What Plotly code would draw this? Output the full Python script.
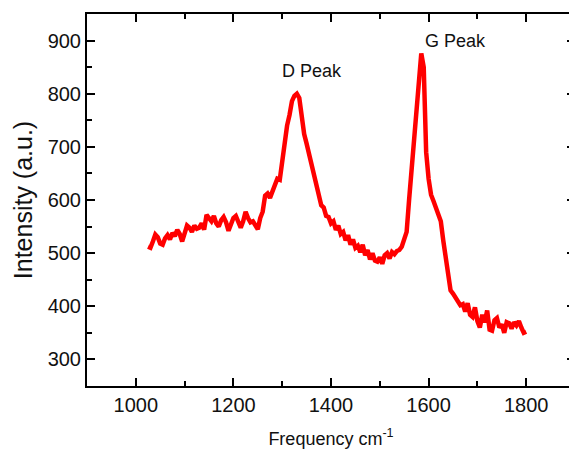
import plotly.graph_objects as go

freq = [1025, 1030, 1035, 1040, 1045, 1050, 1055, 1060, 1065, 1070, 1075, 1080, 1085, 1090, 1095,
        1100, 1105, 1110, 1115, 1120, 1125, 1130, 1135, 1140, 1145, 1150, 1155, 1160, 1165, 1170,
        1175, 1180, 1185, 1190, 1195, 1200, 1205, 1210, 1215, 1220, 1225, 1230, 1235, 1240, 1245,
        1250, 1255, 1260, 1265, 1270, 1275, 1280, 1285, 1290, 1295, 1300, 1305, 1310, 1315, 1320,
        1325, 1330, 1335, 1340, 1345, 1350, 1355, 1360, 1365, 1370, 1375, 1380, 1385, 1390, 1395,
        1400, 1405, 1410, 1415, 1420, 1425, 1430, 1435, 1440, 1445, 1450, 1455, 1460, 1465, 1470,
        1475, 1480, 1485, 1490, 1495, 1500, 1505, 1510, 1515, 1520, 1525, 1530, 1535, 1540, 1545,
        1550, 1555, 1560, 1565, 1570, 1575, 1580, 1585, 1590, 1595, 1600, 1605, 1610, 1615, 1620,
        1625, 1630, 1635, 1640, 1645, 1650, 1655, 1660, 1665, 1670, 1675, 1680, 1685, 1690, 1695,
        1700, 1705, 1710, 1715, 1720, 1725, 1730, 1735, 1740, 1745, 1750, 1755, 1760, 1765, 1770,
        1775, 1780, 1785, 1790, 1795, 1800]

intensity = [512, 510, 522, 535, 530, 518, 516, 528, 534, 526, 538, 532, 544, 536, 522,
             540, 552, 548, 540, 552, 546, 548, 556, 544, 572, 566, 560, 570, 556, 550,
             562, 568, 558, 542, 552, 566, 570, 556, 548, 560, 578, 566, 558, 560, 552,
             545, 566, 578, 608, 612, 604, 616, 632, 640, 638, 672, 716, 740, 760, 786,
             796, 800, 792, 750, 724, 706, 688, 664, 650, 626, 612, 590, 586, 570, 568,
             556, 560, 544, 552, 536, 540, 524, 534, 516, 526, 510, 514, 502, 516, 496,
             506, 488, 500, 486, 484, 492, 480, 496, 500, 490, 502, 498, 504, 506, 512,
             528, 540, 600, 654, 700, 760, 815, 876, 850, 690, 640, 610, 598, 586, 576,
             560, 524, 494, 456, 430, 424, 416, 412, 402, 404, 390, 406, 384, 380, 398,
             372, 360, 384, 370, 392, 356, 354, 374, 378, 360, 366, 350, 370, 368, 358,
             370, 364, 372, 360, 350, 352]

x_ticks = [1000, 1200, 1400, 1600, 1800]
y_ticks = [300, 400, 500, 600, 700, 800, 900]

peak_labels = ["D Peak", "G Peak"]
peak_pos = [(1362, 842), (1656, 900)]

font_family = "Arial, Liberation Sans, sans-serif"

fig = go.Figure()
fig.add_trace(go.Scatter(x=freq, y=intensity, mode="lines",
                         line=dict(color="#ff0000", width=4.5), showlegend=False))

for lab, (px, py) in zip(peak_labels, peak_pos):
    fig.add_annotation(x=px, y=py, text=lab, showarrow=False,
                       font=dict(family=font_family, size=18, color="#111111"),
                       xanchor="center", yanchor="middle")

axis_common = dict(showline=True, linecolor="black", linewidth=2, mirror="allticks",
                   ticks="inside", ticklen=8, tickwidth=2, tickcolor="black",
                   showgrid=False, zeroline=False, automargin=False,
                   tickfont=dict(family=font_family, size=20, color="#111111"))

fig.update_xaxes(range=[900, 1900], tickvals=x_ticks,
                 minor=dict(ticks="inside", ticklen=5, tickwidth=2, tickcolor="black", dtick=100),
                 title=dict(text="Frequency cm<sup>-1</sup>",
                            font=dict(family=font_family, size=18, color="#111111"),
                            standoff=24),
                 **axis_common)
fig.update_yaxes(range=[250, 950], tickvals=y_ticks,
                 minor=dict(ticks="inside", ticklen=5, tickwidth=2, tickcolor="black", dtick=50),
                 title=dict(text="Intensity (a.u.)",
                            font=dict(family=font_family, size=25, color="#111111"),
                            standoff=8),
                 **axis_common)

fig.update_layout(width=569, height=441, margin=dict(l=79, r=2, t=6, b=63),
                  plot_bgcolor="white", paper_bgcolor="white")

fig.write_html("out.html")
